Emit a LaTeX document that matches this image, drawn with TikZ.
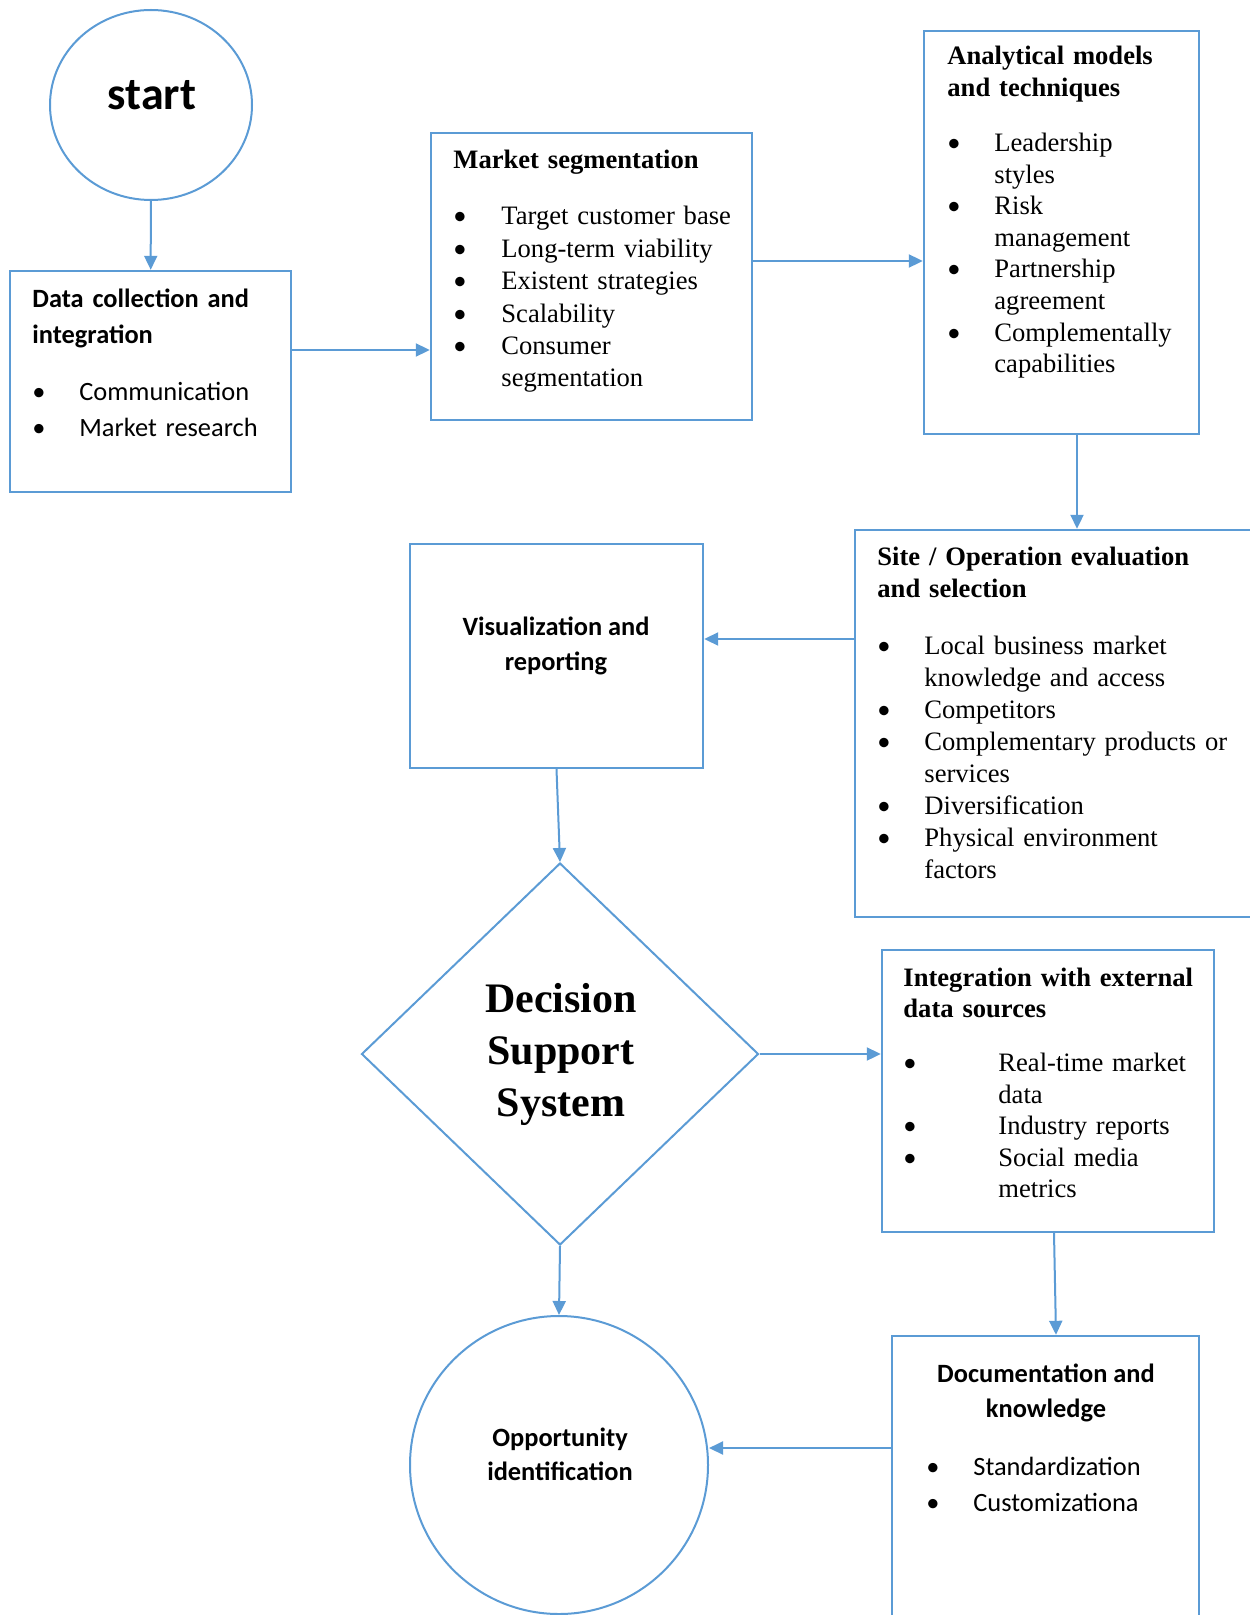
\documentclass[tikz,border=0pt]{standalone}
\usepackage{fontspec}
\setmainfont{Liberation Serif}
\newfontfamily\calibri{Carlito}
\usetikzlibrary{positioning,arrows.meta,fit,shapes.geometric}
\definecolor{boxblue}{RGB}{91,155,213}
\newcommand{\bul}[1]{\makebox[#1][l]{\calibri\textbullet}}

\begin{document}
\begin{tikzpicture}[x=0.5pt,y=-0.5pt,>={Triangle[length=7pt,width=6.5pt]},
  box/.style={draw=boxblue,line width=1.2pt,inner sep=0pt},
  shp/.style={draw=boxblue,line width=1pt,inner sep=0pt},
  arr/.style={->,color=boxblue,line width=1pt},
  txt/.style={anchor=base west,inner sep=0pt,align=left,text width=200pt},
  ctxt/.style={anchor=base,inner sep=0pt,align=center}]
\useasboundingbox (0,0) rectangle (1249,1615);

% shapes
\node[shp,ellipse,minimum width=101pt,minimum height=95pt] (start) at (151,105) {};
\node[box,fit={(10,271) (291,492)}] (data) {};
\node[box,fit={(431,133) (752,420)}] (seg) {};
\node[box,fit={(924,31) (1199,434)}] (models) {};
\node[box,fit={(855,530) (1252,917)}] (site) {};
\node[box,fit={(410,544) (703,768)}] (vis) {};
\node[shp,diamond,minimum width=198.5pt,minimum height=191pt] (dss) at (560,1054) {};
\node[box,fit={(882,950) (1214,1232)}] (ext) {};
\node[box,fit={(892,1336) (1199,1620)}] (doc) {};
\node[shp,circle,minimum size=149pt] (opp) at (559,1465) {};

% texts (centred ones sit on their last baseline)
\node[ctxt,font=\calibri\bfseries\fontsize{23}{27}\selectfont] (start-t) at (152,110) {start};
\node[txt,font=\calibri\fontsize{13.2}{17.5}\selectfont] (data-t) at (32,308)
  {\textbf{Data collection and}\\ \textbf{integration}\\[11.5pt]
   \bul{23.5pt}Communication\\ \bul{23.5pt}Market research};
\node[txt,font=\fontsize{13.3}{16.2}\selectfont] (seg-t) at (453,169)
  {\textbf{Market segmentation}\\[11.8pt]
   \bul{24pt}Target customer base\\ \bul{24pt}Long-term viability\\
   \bul{24pt}Existent strategies\\ \bul{24pt}Scalability\\
   \bul{24pt}Consumer\\ \hspace*{24pt}segmentation};
\node[txt,font=\fontsize{13.3}{15.8}\selectfont] (models-t) at (947,65)
  {\textbf{Analytical models}\\ \textbf{and techniques}\\[11.7pt]
   \bul{23.5pt}Leadership\\ \hspace*{23.5pt}styles\\
   \bul{23.5pt}Risk\\ \hspace*{23.5pt}management\\
   \bul{23.5pt}Partnership\\ \hspace*{23.5pt}agreement\\
   \bul{23.5pt}Complementally\\ \hspace*{23.5pt}capabilities};
\node[txt,font=\fontsize{13.3}{16}\selectfont] (site-t) at (877,565)
  {\textbf{Site / Operation evaluation}\\ \textbf{and selection}\\[12.5pt]
   \bul{23.5pt}Local business market\\ \hspace*{23.5pt}knowledge and access\\
   \bul{23.5pt}Competitors\\
   \bul{23.5pt}Complementary products or\\ \hspace*{23.5pt}services\\
   \bul{23.5pt}Diversification\\
   \bul{23.5pt}Physical environment\\ \hspace*{23.5pt}factors};
\node[ctxt,font=\calibri\bfseries\fontsize{13.2}{17.5}\selectfont] (vis-t) at (556,670)
  {Visualization and\\reporting};
\node[ctxt,font=\bfseries\fontsize{21}{26}\selectfont] (dss-t) at (561,1116)
  {Decision\\Support\\System};
\node[txt,font=\fontsize{13.3}{15.75}\selectfont] (ext-t) at (903,986)
  {\textbf{Integration with external}\\ \textbf{data sources}\\[11.25pt]
   \bul{47.5pt}Real-time market\\ \hspace*{47.5pt}data\\
   \bul{47.5pt}Industry reports\\
   \bul{47.5pt}Social media\\ \hspace*{47.5pt}metrics};
\node[ctxt,font=\calibri\bfseries\fontsize{13.2}{17.5}\selectfont] (doc-t) at (1046,1417)
  {Documentation and\\knowledge};
\node[txt,font=\calibri\fontsize{13.2}{18}\selectfont] (doc-l) at (926,1475)
  {\bul{23.5pt}Standardization\\ \bul{23.5pt}Customizationa};
\node[ctxt,font=\calibri\bfseries\fontsize{13.2}{16.75}\selectfont] (opp-t) at (560,1480)
  {Opportunity\\identification};

% connectors
\draw[arr] (start) -- (data);
\draw[arr] ([yshift=15.75pt]data.east) coordinate (a1) -- (a1 -| seg.west);
\draw[arr] ([yshift=7.75pt]seg.east) coordinate (a2) -- (a2 -| models.west);
\draw[arr] ([xshift=7.75pt]models.south) coordinate (a3) -- (a3 |- site.north);
\draw[arr] ([yshift=42.25pt]site.west) coordinate (a4) -- (a4 -| vis.east);
\draw[arr] (vis.south) -- (dss.north);
\draw[arr] (dss.east) -- (dss.east -| ext.west);
\draw[arr] ([xshift=3pt]ext.south) -- ([xshift=5.25pt]doc.north);
\draw[arr] (dss.south) -- (opp.north);
\draw[arr] ([yshift=15pt]doc.west) coordinate (a5) -- (a5 -| opp.east);
\end{tikzpicture}
\end{document}
